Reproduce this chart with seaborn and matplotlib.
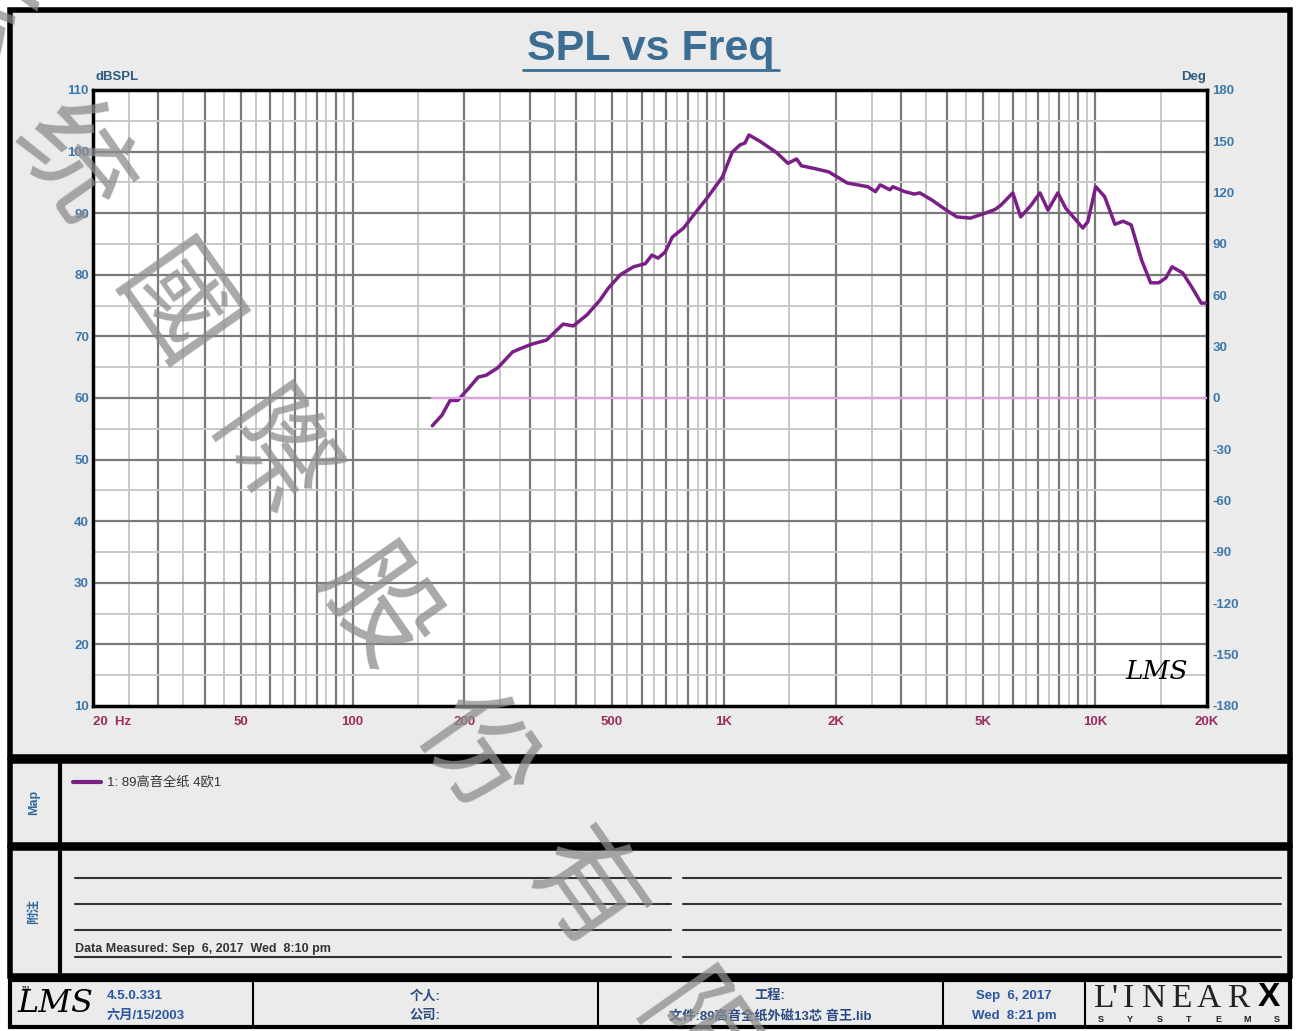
import matplotlib.pyplot as plt
from matplotlib.patches import Rectangle
from matplotlib.ticker import NullLocator
import seaborn as sns

# SPL curve (Hz, dBSPL)
freq_hz = [164, 174, 183, 192, 200, 207, 218, 229, 246, 270, 291, 306, 333, 369, 393,
           428, 464, 488, 526, 571, 614, 640, 665, 695, 726, 779, 829, 902, 991, 1053,
           1106, 1140, 1168, 1249, 1389, 1487, 1570, 1617, 1770, 1917, 2150, 2440, 2560,
           2635, 2800, 2850, 3070, 3260, 3370, 3640, 3970, 4240, 4610, 5050, 5370, 5570,
           6000, 6300, 6720, 7100, 7460, 7930, 8330, 9260, 9550, 10030, 10600, 11300,
           11880, 12500, 13330, 14100, 14830, 15500, 16100, 17200, 18200, 19300, 19900]
spl_db = [55.5, 57.2, 59.6, 59.6, 60.8, 61.8, 63.4, 63.7, 64.9, 67.5, 68.3, 68.8, 69.4, 72.0, 71.7,
          73.5, 75.9, 77.8, 80.0, 81.3, 81.8, 83.2, 82.7, 83.7, 86.1, 87.6, 89.7, 92.5, 95.9, 99.9,
          101.1, 101.4, 102.7, 101.7, 99.8, 98.1, 98.8, 97.7, 97.2, 96.7, 94.9, 94.3, 93.5,
          94.6, 93.8, 94.3, 93.5, 93.1, 93.3, 92.1, 90.5, 89.4, 89.2, 90.0, 90.6, 91.3,
          93.3, 89.4, 91.3, 93.3, 90.5, 93.3, 90.8, 87.6, 88.6, 94.3, 92.7, 88.2,
          88.7, 88.1, 82.4, 78.7, 78.7, 79.5, 81.3, 80.3, 78.0, 75.4, 75.4]

# phase trace (flat at 0 deg)
phase_freq = [164, 20000]
phase_deg = [0, 0]

x_tick_freqs = [20, 50, 100, 200, 500, 1000, 2000, 5000, 10000, 20000]
x_tick_labels = ["20  Hz", "50", "100", "200", "500", "1K", "2K", "5K", "10K", "20K"]
spl_ticks = list(range(10, 111, 10))
deg_ticks = list(range(-180, 181, 30))

curve_label = "1: 89高音全纸 4欧1"
measured_text = "Data Measured: Sep  6, 2017  Wed  8:10 pm"
watermark = ["系", "统", "國", "際", "股", "份", "有", "限"]

sns.set_theme(style="white")
plt.rcParams['font.family'] = ['Liberation Sans', 'Noto Sans CJK SC', 'DejaVu Sans']
plt.rcParams['axes.unicode_minus'] = False

W, H = 1296, 1031
fig = plt.figure(figsize=(W / 100, H / 100), dpi=100)
fig.patch.set_facecolor('white')

# background layer in pixel coordinates
bg = fig.add_axes([0, 0, 1, 1])
bg.set_xlim(0, W)
bg.set_ylim(H, 0)
bg.axis('off')

PANEL = '#ebebeb'
BLUE = '#2f6a9c'
RED = '#9b2d5e'
PURPLE = '#7a1f86'


def box(x0, y0, x1, y1, lw=4.0, fc=PANEL):
    bg.add_patch(Rectangle((x0, y0), x1 - x0, y1 - y0, facecolor=fc, edgecolor='black', linewidth=lw))


# panels
box(10, 10, 1290, 757)
box(10, 761, 1290, 845)
box(10, 848, 1290, 976)
box(10, 980, 1290, 1027, lw=3)
bg.plot([60, 60], [761, 845], color='black', lw=3)
bg.plot([60, 60], [848, 976], color='black', lw=3)
for xd in [253, 598, 943, 1085]:
    bg.plot([xd, xd], [980, 1027], color='black', lw=1.5)

# title
bg.text(651, 49, "SPL vs Freq", ha='center', va='center', fontsize=31, fontweight='bold', color='#3b6e92')
bg.plot([523, 779], [70, 70], color='#3b6e92', lw=2)
bg.text(95, 77, "dBSPL", ha='left', va='center', fontsize=9.5, fontweight='bold', color='#2c5a80')
bg.text(1206, 77, "Deg", ha='right', va='center', fontsize=9.5, fontweight='bold', color='#2c5a80')

# map panel
bg.text(34, 802, "Map", rotation=90, ha='center', va='center', fontsize=9, fontweight='bold', color=BLUE)
bg.plot([73, 101], [782, 782], color=PURPLE, lw=3)
bg.text(107, 782, curve_label, ha='left', va='center', fontsize=9.5, color='#333333')

# notes panel
bg.text(34, 912, "附注", rotation=90, ha='center', va='center', fontsize=9, fontweight='bold', color=BLUE)
for yl in [878, 904, 930, 957]:
    bg.plot([75, 671], [yl, yl], color='#333333', lw=1.5)
    bg.plot([683, 1281], [yl, yl], color='#333333', lw=1.5)
bg.text(75, 955, measured_text, ha='left', va='bottom', fontsize=9, fontweight='bold', color='#333333')

# footer
bg.text(55, 1004, "LMS", ha='center', va='center', fontsize=23, fontstyle='italic',
        family='DejaVu Serif', color='black')
bg.text(22, 990, "TM", fontsize=4, color='black')
foot = dict(va='center', fontsize=9.5, fontweight='bold')
bg.text(107, 996, "4.5.0.331", ha='left', color='#2a56a0', **foot)
bg.text(107, 1016, "六月/15/2003", ha='left', color='#2a56a0', **foot)
bg.text(425, 996, "个人:", ha='center', color='#2a4a80', **foot)
bg.text(425, 1016, "公司:", ha='center', color='#2a4a80', **foot)
bg.text(770, 996, "工程:", ha='center', color='#2a4a80', **foot)
bg.text(770, 1016, "文件:89高音全纸外磁13芯 音王.lib", ha='center', color='#2a4a80', **foot)
bg.text(1014, 996, "Sep  6, 2017", ha='center', color='#2a56a0', **foot)
bg.text(1014, 1016, "Wed  8:21 pm", ha='center', color='#2a56a0', **foot)
for ch, lx in zip("L'INEAR", [1104, 1115, 1128, 1154, 1181, 1209, 1238]):
    bg.text(lx, 999, ch, ha='center', va='center', fontsize=24, family='Liberation Serif', color='#222222')
bg.text(1269, 998, "X", ha='center', va='center', fontsize=24, fontweight='bold', color='black')
for i, ch in enumerate("SYSTEMS"):
    bg.text(1101 + i * 29.3, 1019, ch, ha='center', va='center', fontsize=6.5, fontweight='bold', color='#222222')

# main plot
ax = fig.add_axes([93 / W, 1 - 706 / H, (1207 - 93) / W, (706 - 90) / H])
ax.set_facecolor('white')
ax.set_xscale('log')
ax.set_xlim(20, 20000)
ax.set_ylim(10, 110)

for d in [10, 100, 1000, 10000]:
    for k in range(2, 20):
        f = k * d / 2
        if 20 < f < 20000:
            if k % 2 == 0:
                ax.axvline(f, color='#7a7a7a', lw=1.6, zorder=1)
            else:
                ax.axvline(f, color='#c8c8c8', lw=1.4, zorder=1)
for v in range(15, 110, 5):
    if v % 10 == 0:
        ax.axhline(v, color='#7a7a7a', lw=1.6, zorder=1)
    else:
        ax.axhline(v, color='#c8c8c8', lw=1.4, zorder=1)

sns.lineplot(x=freq_hz, y=spl_db, ax=ax, color=PURPLE, linewidth=2.5, zorder=5)

ax.set_xticks(x_tick_freqs, x_tick_labels)
ax.xaxis.set_minor_locator(NullLocator())
ax.set_yticks(spl_ticks)
ax.tick_params(axis='x', length=0, pad=7, labelsize=9.5, labelcolor=RED)
ax.tick_params(axis='y', length=0, pad=3, labelsize=9.5, labelcolor='#3c78ad')
for lab in ax.get_xticklabels() + ax.get_yticklabels():
    lab.set_fontweight('bold')
ax.get_xticklabels()[0].set_ha('left')
ax.set_xlabel("")
ax.set_ylabel("")
for s in ax.spines.values():
    s.set_color('black')
    s.set_linewidth(2.5)
ax.text(0.955, 0.035, "LMS", transform=ax.transAxes, ha='center', va='bottom', fontsize=19,
        fontstyle='italic', family='DejaVu Serif', color='black', zorder=6)

ax2 = ax.twinx()
sns.lineplot(x=phase_freq, y=phase_deg, ax=ax2, color='#e0a2e0', linewidth=1.6)
ax2.set_ylim(-180, 180)
ax2.set_yticks(deg_ticks)
ax2.tick_params(axis='y', length=0, pad=4, labelsize=9.5, labelcolor='#3c78ad')
for lab in ax2.get_yticklabels():
    lab.set_fontweight('bold')
ax2.set_ylabel("")
for s in ax2.spines.values():
    s.set_visible(False)

# diagonal watermark
wm_pos = [(-30, 25), (70, 165), (172, 312), (268, 458), (375, 610), (474, 755), (582, 893), (692, 1040)]
for ch, (wx, wy) in zip(watermark, wm_pos):
    fig.text(wx / W, 1 - wy / H, ch, ha='center', va='center', rotation=-55, fontsize=82,
             family=['Noto Sans CJK TC', 'Noto Sans CJK SC'], color='#8c8c8c', alpha=0.75, zorder=100)

fig.savefig("out.png", dpi=100)
